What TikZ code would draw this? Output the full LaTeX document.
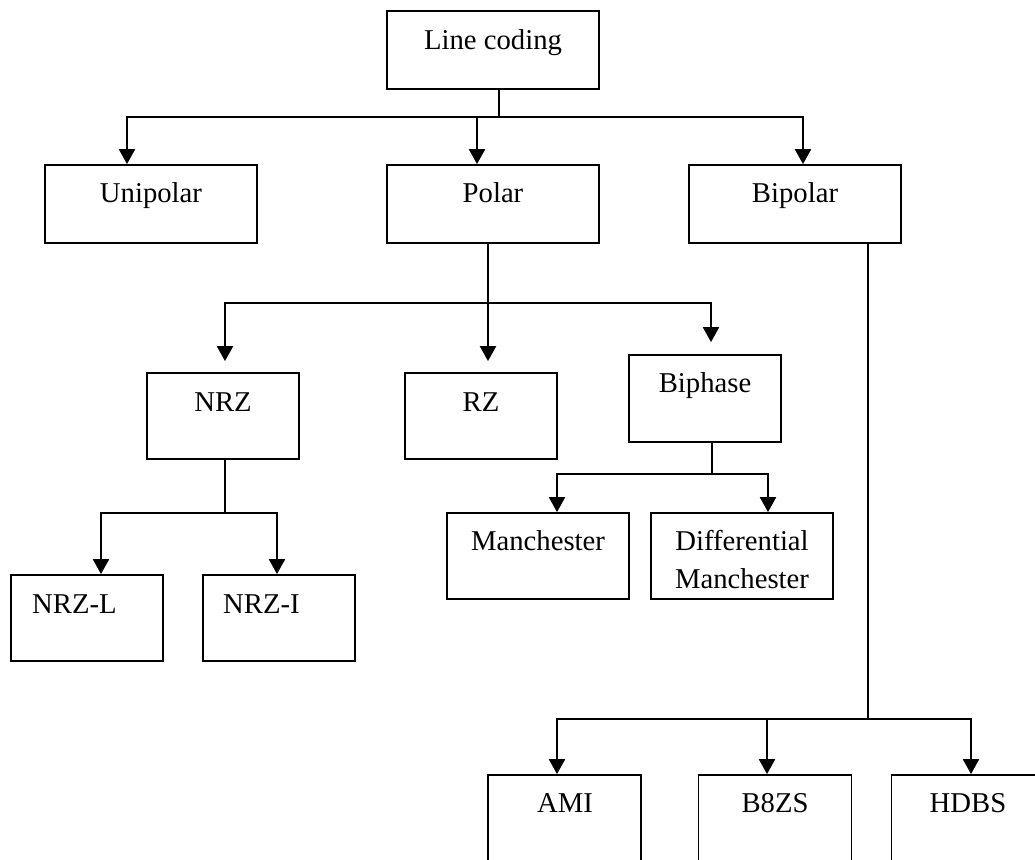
\documentclass[tikz,border=0pt]{standalone}
\usepackage{fontspec}
\setmainfont{Liberation Serif}
\usetikzlibrary{arrows.meta}
\begin{document}
\begin{tikzpicture}[x=1pt,y=-1pt,
  box/.style={draw, line width=1.8pt, rectangle, inner sep=0pt},
  wbox/.style={box, minimum width=212pt, minimum height=78pt},
  mbox/.style={box, minimum width=152pt, minimum height=86pt},
  obox/.style={box, minimum width=153pt, minimum height=125pt},
  txt/.style={inner sep=0pt, font=\fontsize{28.7}{38}\selectfont, anchor=base},
  wire/.style={line width=2pt},
  arr/.style={line width=2.2pt, -{Triangle[length=15pt,width=16pt]}}]
\useasboundingbox (0,0) rectangle (1035,859);
\clip (0,0) rectangle (1035,859);
\fill[white] (0,0) rectangle (1035,859);

% boxes
\node[wbox] (lc)  at (493,50) {};
\node[wbox] (uni) at (151,204) {};
\node[wbox] (pol) at (493,204) {};
\node[wbox] (bip) at (795,204) {};
\node[mbox] (nrz) at (223,416) {};
\node[mbox] (rz)  at (481,416) {};
\node[box, minimum width=152pt, minimum height=87pt] (bph) at (705,398.5) {};
\node[box, minimum width=182pt, minimum height=86pt] (man) at (538,556) {};
\node[box, minimum width=182pt, minimum height=86pt] (dman) at (742,556) {};
\node[mbox] (nrzl) at (87,618) {};
\node[mbox] (nrzi) at (279,618) {};
\node[obox] (ami)  at (564.5,837.5) {};
\node[obox] (b8zs) at (775,837.5) {};
\node[obox] (hdbs) at (968,837.5) {};

% texts
\node[txt] (lc-t)  at (493,50) {Line coding};
\node[txt] (uni-t) at (151,202) {Unipolar};
\node[txt] (pol-t) at (493,202) {Polar};
\node[txt] (bip-t) at (795,202) {Bipolar};
\node[txt] (nrz-t) at (223,411) {NRZ};
\node[txt] (rz-t)  at (481,411) {RZ};
\node[txt] (bph-t) at (705,392) {Biphase};
\node[txt] (man-t) at (538,550) {Manchester};
\node[txt, align=center] (dman-t) at (742,588) {Differential\\Manchester};
\node[txt, anchor=base west] (nrzl-t) at (32,613) {NRZ-L};
\node[txt, anchor=base west] (nrzi-t) at (223,613) {NRZ-I};
\node[txt] (ami-t)  at (565,812) {AMI};
\node[txt] (b8zs-t) at (775,812) {B8ZS};
\node[txt] (hdbs-t) at (968,812) {HDBS};

% junctions
\coordinate (j1)  at (499,117);
\coordinate (j1l) at (127,117);
\coordinate (j1m) at (477,117);
\coordinate (j1r) at (803,117);
\coordinate (j2)  at (488,303);
\coordinate (j2l) at (225,303);
\coordinate (j2r) at (711,303);
\coordinate (j3)  at (225,513);
\coordinate (j3l) at (101,513);
\coordinate (j3r) at (277,513);
\coordinate (j4)  at (712,474);
\coordinate (j4l) at (557,474);
\coordinate (j4r) at (768,474);
\coordinate (j5)  at (868,719);
\coordinate (j5l) at (557,719);
\coordinate (j5m) at (767,719);
\coordinate (j5r) at (971,719);

% connectors
\draw[wire] (lc.south -| j1) -- (j1);
\draw[arr] (j1) -- (j1l) -- (j1l |- uni.north);
\draw[arr] (j1) -- (j1r) -- (j1r |- bip.north);
\draw[arr] (j1m) -- (j1m |- pol.north);

\draw[arr, shorten >=11pt] (pol.south -| j2) -- (j2 |- rz.north);
\draw[arr, shorten >=11pt] (j2) -- (j2l) -- (j2l |- nrz.north);
\draw[arr, shorten >=12pt] (j2) -- (j2r) -- (j2r |- bph.north);

\draw[wire] (nrz.south -| j3) -- (j3);
\draw[arr] (j3) -- (j3l) -- (j3l |- nrzl.north);
\draw[arr] (j3) -- (j3r) -- (j3r |- nrzi.north);

\draw[wire] (bph.south -| j4) -- (j4);
\draw[arr] (j4) -- (j4l) -- (j4l |- man.north);
\draw[arr] (j4) -- (j4r) -- (j4r |- dman.north);

\draw[wire] (bip.south -| j5) -- (j5);
\draw[arr] (j5) -- (j5l) -- (j5l |- ami.north);
\draw[arr] (j5) -- (j5r) -- (j5r |- hdbs.north);
\draw[arr] (j5m) -- (j5m |- b8zs.north);
\end{tikzpicture}
\end{document}
